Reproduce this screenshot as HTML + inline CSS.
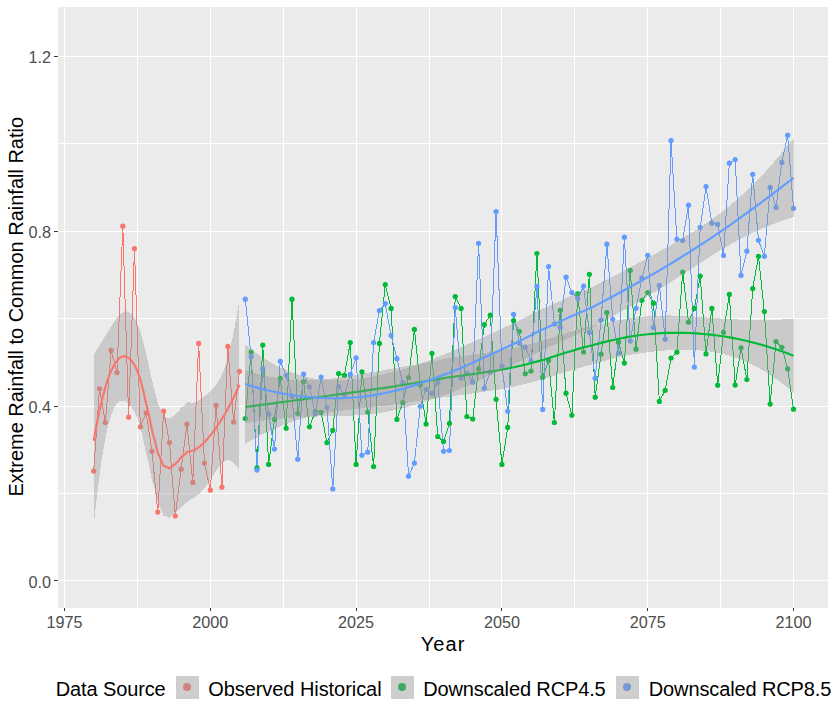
<!DOCTYPE html>
<html><head><meta charset="utf-8"><style>
html,body{margin:0;padding:0;background:#fff;}
svg{display:block;}
.ce{shape-rendering:crispEdges;}
text{font-family:"Liberation Sans",sans-serif;}
.tk{font-size:16.2px;fill:#4D4D4D;}
.ti{font-size:20px;fill:#000;}
.lg{font-size:20px;fill:#000;}
</style></head><body>
<svg width="838" height="706" viewBox="0 0 838 706">
<rect width="838" height="706" fill="#fff"/>
<rect x="58" y="7" width="770" height="601" fill="#EBEBEB"/>
<rect x="58" y="580" width="770" height="1" fill="#fff"/>
<rect x="58" y="493" width="770" height="1" fill="#fff"/>
<rect x="58" y="406" width="770" height="1" fill="#fff"/>
<rect x="58" y="318" width="770" height="1" fill="#fff"/>
<rect x="58" y="231" width="770" height="1" fill="#fff"/>
<rect x="58" y="143" width="770" height="1" fill="#fff"/>
<rect x="58" y="56" width="770" height="1" fill="#fff"/>
<rect x="64" y="7" width="1" height="601" fill="#fff"/>
<rect x="137" y="7" width="1" height="601" fill="#fff"/>
<rect x="210" y="7" width="1" height="601" fill="#fff"/>
<rect x="283" y="7" width="1" height="601" fill="#fff"/>
<rect x="356" y="7" width="1" height="601" fill="#fff"/>
<rect x="429" y="7" width="1" height="601" fill="#fff"/>
<rect x="501" y="7" width="1" height="601" fill="#fff"/>
<rect x="574" y="7" width="1" height="601" fill="#fff"/>
<rect x="647" y="7" width="1" height="601" fill="#fff"/>
<rect x="720" y="7" width="1" height="601" fill="#fff"/>
<rect x="793" y="7" width="1" height="601" fill="#fff"/>
<polyline points="93.66,471 99.49,388.8 105.32,422.5 111.16,350.4 116.99,372.6 122.82,226.2 128.65,417.2 134.48,248.5 140.32,426.8 146.15,412.9 151.98,451.3 157.81,512.1 163.64,411.1 169.48,442.6 175.31,516 181.14,469.2 186.97,424.2 192.8,482.4 198.64,343.4 204.47,463.1 210.3,490.2 216.13,405.4 221.96,487.2 227.8,346.4 233.63,422 239.46,371.3" fill="none" stroke="#F8766D" stroke-width="1" stroke-linejoin="round" class="ce"/>
<polyline points="245.29,418.5 251.12,352.1 256.96,467.9 262.79,345.1 268.62,464.4 274.45,419.4 280.28,378.3 286.12,428.2 291.95,299.2 297.78,413.3 303.61,381.8 309.44,426.8 315.28,411.5 321.11,412.4 326.94,442.6 332.77,430.3 338.6,373.5 344.44,375.3 350.27,342.5 356.1,464.4 361.93,371.8 367.76,412 373.6,466.6 379.43,343.4 385.26,284.5 391.09,308.4 396.92,419.4 402.76,402.4 408.59,377.5 414.42,329.4 420.25,385 426.08,424.1 431.92,353.3 437.75,436.5 443.58,441.5 449.41,423.3 455.24,296.6 461.08,308.4 466.91,416.5 472.74,419 478.57,368.9 484.4,324.5 490.24,315.2 496.07,399.3 501.9,464.4 507.73,427.4 513.56,320.6 519.4,331.3 525.23,373.8 531.06,371 536.89,253.5 542.72,377.2 548.56,360.5 554.39,422.5 560.22,310.3 566.05,393.2 571.88,415.3 577.72,293.9 583.55,352 589.38,274.3 595.21,397.2 601.04,354.2 606.88,312.5 612.71,387.5 618.54,342.2 624.37,363.1 630.2,270.4 636.04,349.2 641.87,300.3 647.7,292.5 653.53,303.2 659.36,401.4 665.2,390.3 671.03,358 676.86,352.2 682.69,272.1 688.52,322.2 694.36,308.4 700.19,276.1 706.02,353.9 711.85,308.4 717.68,385.2 723.52,332.3 729.35,294.4 735.18,385.1 741.01,347.8 746.84,379.5 752.68,288.6 758.51,256.3 764.34,311.6 770.17,404.1 776,341.5 781.84,347.3 787.67,368.8 793.5,409.2" fill="none" stroke="#00BA38" stroke-width="1" stroke-linejoin="round" class="ce"/>
<polyline points="245.29,299.2 251.12,356.5 256.96,470.1 262.79,368.7 268.62,414.2 274.45,449.1 280.28,361.3 286.12,375.3 291.95,396.2 297.78,459.2 303.61,374 309.44,387.1 315.28,413.7 321.11,377 326.94,407.6 332.77,488.9 338.6,386.6 344.44,394.9 350.27,374.4 356.1,357.8 361.93,455.3 367.76,452.2 373.6,342.5 379.43,310.6 385.26,303.6 391.09,335.5 396.92,358.7 402.76,382.7 408.59,476.2 414.42,463.1 420.25,406.3 426.08,389.3 431.92,393.3 437.75,382.2 443.58,451.3 449.41,450.5 455.24,307.5 461.08,378.2 466.91,373 472.74,382.2 478.57,243.3 484.4,388.2 490.24,372 496.07,211.5 501.9,366.2 507.73,411.3 513.56,314.3 519.4,343.2 525.23,347.2 531.06,361.1 536.89,286.4 542.72,409.4 548.56,266.5 554.39,324 560.22,327.3 566.05,277.2 571.88,292.5 577.72,298.4 583.55,286.2 589.38,332.4 595.21,378.3 601.04,320.2 606.88,244.2 612.71,319.3 618.54,353 624.37,237.2 630.2,341.1 636.04,308.3 641.87,278.2 647.7,255.3 653.53,327.5 659.36,285.3 665.2,339.2 671.03,140.6 676.86,239.2 682.69,240.5 688.52,205.2 694.36,367.1 700.19,227.3 706.02,186.5 711.85,223.2 717.68,224.4 723.52,255.4 729.35,163.2 735.18,159.5 741.01,275.4 746.84,251.2 752.68,174.3 758.51,240.3 764.34,256.3 770.17,187.4 776,207.4 781.84,162.4 787.67,135.2 793.5,208.3" fill="none" stroke="#619CFF" stroke-width="1" stroke-linejoin="round" class="ce"/>
<circle cx="93.66" cy="471" r="2.6" fill="#F8766D"/>
<circle cx="99.49" cy="388.8" r="2.6" fill="#F8766D"/>
<circle cx="105.32" cy="422.5" r="2.6" fill="#F8766D"/>
<circle cx="111.16" cy="350.4" r="2.6" fill="#F8766D"/>
<circle cx="116.99" cy="372.6" r="2.6" fill="#F8766D"/>
<circle cx="122.82" cy="226.2" r="2.6" fill="#F8766D"/>
<circle cx="128.65" cy="417.2" r="2.6" fill="#F8766D"/>
<circle cx="134.48" cy="248.5" r="2.6" fill="#F8766D"/>
<circle cx="140.32" cy="426.8" r="2.6" fill="#F8766D"/>
<circle cx="146.15" cy="412.9" r="2.6" fill="#F8766D"/>
<circle cx="151.98" cy="451.3" r="2.6" fill="#F8766D"/>
<circle cx="157.81" cy="512.1" r="2.6" fill="#F8766D"/>
<circle cx="163.64" cy="411.1" r="2.6" fill="#F8766D"/>
<circle cx="169.48" cy="442.6" r="2.6" fill="#F8766D"/>
<circle cx="175.31" cy="516" r="2.6" fill="#F8766D"/>
<circle cx="181.14" cy="469.2" r="2.6" fill="#F8766D"/>
<circle cx="186.97" cy="424.2" r="2.6" fill="#F8766D"/>
<circle cx="192.8" cy="482.4" r="2.6" fill="#F8766D"/>
<circle cx="198.64" cy="343.4" r="2.6" fill="#F8766D"/>
<circle cx="204.47" cy="463.1" r="2.6" fill="#F8766D"/>
<circle cx="210.3" cy="490.2" r="2.6" fill="#F8766D"/>
<circle cx="216.13" cy="405.4" r="2.6" fill="#F8766D"/>
<circle cx="221.96" cy="487.2" r="2.6" fill="#F8766D"/>
<circle cx="227.8" cy="346.4" r="2.6" fill="#F8766D"/>
<circle cx="233.63" cy="422" r="2.6" fill="#F8766D"/>
<circle cx="239.46" cy="371.3" r="2.6" fill="#F8766D"/>
<circle cx="245.29" cy="418.5" r="2.6" fill="#00BA38"/>
<circle cx="251.12" cy="352.1" r="2.6" fill="#00BA38"/>
<circle cx="256.96" cy="467.9" r="2.6" fill="#00BA38"/>
<circle cx="262.79" cy="345.1" r="2.6" fill="#00BA38"/>
<circle cx="268.62" cy="464.4" r="2.6" fill="#00BA38"/>
<circle cx="274.45" cy="419.4" r="2.6" fill="#00BA38"/>
<circle cx="280.28" cy="378.3" r="2.6" fill="#00BA38"/>
<circle cx="286.12" cy="428.2" r="2.6" fill="#00BA38"/>
<circle cx="291.95" cy="299.2" r="2.6" fill="#00BA38"/>
<circle cx="297.78" cy="413.3" r="2.6" fill="#00BA38"/>
<circle cx="303.61" cy="381.8" r="2.6" fill="#00BA38"/>
<circle cx="309.44" cy="426.8" r="2.6" fill="#00BA38"/>
<circle cx="315.28" cy="411.5" r="2.6" fill="#00BA38"/>
<circle cx="321.11" cy="412.4" r="2.6" fill="#00BA38"/>
<circle cx="326.94" cy="442.6" r="2.6" fill="#00BA38"/>
<circle cx="332.77" cy="430.3" r="2.6" fill="#00BA38"/>
<circle cx="338.6" cy="373.5" r="2.6" fill="#00BA38"/>
<circle cx="344.44" cy="375.3" r="2.6" fill="#00BA38"/>
<circle cx="350.27" cy="342.5" r="2.6" fill="#00BA38"/>
<circle cx="356.1" cy="464.4" r="2.6" fill="#00BA38"/>
<circle cx="361.93" cy="371.8" r="2.6" fill="#00BA38"/>
<circle cx="367.76" cy="412" r="2.6" fill="#00BA38"/>
<circle cx="373.6" cy="466.6" r="2.6" fill="#00BA38"/>
<circle cx="379.43" cy="343.4" r="2.6" fill="#00BA38"/>
<circle cx="385.26" cy="284.5" r="2.6" fill="#00BA38"/>
<circle cx="391.09" cy="308.4" r="2.6" fill="#00BA38"/>
<circle cx="396.92" cy="419.4" r="2.6" fill="#00BA38"/>
<circle cx="402.76" cy="402.4" r="2.6" fill="#00BA38"/>
<circle cx="408.59" cy="377.5" r="2.6" fill="#00BA38"/>
<circle cx="414.42" cy="329.4" r="2.6" fill="#00BA38"/>
<circle cx="420.25" cy="385" r="2.6" fill="#00BA38"/>
<circle cx="426.08" cy="424.1" r="2.6" fill="#00BA38"/>
<circle cx="431.92" cy="353.3" r="2.6" fill="#00BA38"/>
<circle cx="437.75" cy="436.5" r="2.6" fill="#00BA38"/>
<circle cx="443.58" cy="441.5" r="2.6" fill="#00BA38"/>
<circle cx="449.41" cy="423.3" r="2.6" fill="#00BA38"/>
<circle cx="455.24" cy="296.6" r="2.6" fill="#00BA38"/>
<circle cx="461.08" cy="308.4" r="2.6" fill="#00BA38"/>
<circle cx="466.91" cy="416.5" r="2.6" fill="#00BA38"/>
<circle cx="472.74" cy="419" r="2.6" fill="#00BA38"/>
<circle cx="478.57" cy="368.9" r="2.6" fill="#00BA38"/>
<circle cx="484.4" cy="324.5" r="2.6" fill="#00BA38"/>
<circle cx="490.24" cy="315.2" r="2.6" fill="#00BA38"/>
<circle cx="496.07" cy="399.3" r="2.6" fill="#00BA38"/>
<circle cx="501.9" cy="464.4" r="2.6" fill="#00BA38"/>
<circle cx="507.73" cy="427.4" r="2.6" fill="#00BA38"/>
<circle cx="513.56" cy="320.6" r="2.6" fill="#00BA38"/>
<circle cx="519.4" cy="331.3" r="2.6" fill="#00BA38"/>
<circle cx="525.23" cy="373.8" r="2.6" fill="#00BA38"/>
<circle cx="531.06" cy="371" r="2.6" fill="#00BA38"/>
<circle cx="536.89" cy="253.5" r="2.6" fill="#00BA38"/>
<circle cx="542.72" cy="377.2" r="2.6" fill="#00BA38"/>
<circle cx="548.56" cy="360.5" r="2.6" fill="#00BA38"/>
<circle cx="554.39" cy="422.5" r="2.6" fill="#00BA38"/>
<circle cx="560.22" cy="310.3" r="2.6" fill="#00BA38"/>
<circle cx="566.05" cy="393.2" r="2.6" fill="#00BA38"/>
<circle cx="571.88" cy="415.3" r="2.6" fill="#00BA38"/>
<circle cx="577.72" cy="293.9" r="2.6" fill="#00BA38"/>
<circle cx="583.55" cy="352" r="2.6" fill="#00BA38"/>
<circle cx="589.38" cy="274.3" r="2.6" fill="#00BA38"/>
<circle cx="595.21" cy="397.2" r="2.6" fill="#00BA38"/>
<circle cx="601.04" cy="354.2" r="2.6" fill="#00BA38"/>
<circle cx="606.88" cy="312.5" r="2.6" fill="#00BA38"/>
<circle cx="612.71" cy="387.5" r="2.6" fill="#00BA38"/>
<circle cx="618.54" cy="342.2" r="2.6" fill="#00BA38"/>
<circle cx="624.37" cy="363.1" r="2.6" fill="#00BA38"/>
<circle cx="630.2" cy="270.4" r="2.6" fill="#00BA38"/>
<circle cx="636.04" cy="349.2" r="2.6" fill="#00BA38"/>
<circle cx="641.87" cy="300.3" r="2.6" fill="#00BA38"/>
<circle cx="647.7" cy="292.5" r="2.6" fill="#00BA38"/>
<circle cx="653.53" cy="303.2" r="2.6" fill="#00BA38"/>
<circle cx="659.36" cy="401.4" r="2.6" fill="#00BA38"/>
<circle cx="665.2" cy="390.3" r="2.6" fill="#00BA38"/>
<circle cx="671.03" cy="358" r="2.6" fill="#00BA38"/>
<circle cx="676.86" cy="352.2" r="2.6" fill="#00BA38"/>
<circle cx="682.69" cy="272.1" r="2.6" fill="#00BA38"/>
<circle cx="688.52" cy="322.2" r="2.6" fill="#00BA38"/>
<circle cx="694.36" cy="308.4" r="2.6" fill="#00BA38"/>
<circle cx="700.19" cy="276.1" r="2.6" fill="#00BA38"/>
<circle cx="706.02" cy="353.9" r="2.6" fill="#00BA38"/>
<circle cx="711.85" cy="308.4" r="2.6" fill="#00BA38"/>
<circle cx="717.68" cy="385.2" r="2.6" fill="#00BA38"/>
<circle cx="723.52" cy="332.3" r="2.6" fill="#00BA38"/>
<circle cx="729.35" cy="294.4" r="2.6" fill="#00BA38"/>
<circle cx="735.18" cy="385.1" r="2.6" fill="#00BA38"/>
<circle cx="741.01" cy="347.8" r="2.6" fill="#00BA38"/>
<circle cx="746.84" cy="379.5" r="2.6" fill="#00BA38"/>
<circle cx="752.68" cy="288.6" r="2.6" fill="#00BA38"/>
<circle cx="758.51" cy="256.3" r="2.6" fill="#00BA38"/>
<circle cx="764.34" cy="311.6" r="2.6" fill="#00BA38"/>
<circle cx="770.17" cy="404.1" r="2.6" fill="#00BA38"/>
<circle cx="776" cy="341.5" r="2.6" fill="#00BA38"/>
<circle cx="781.84" cy="347.3" r="2.6" fill="#00BA38"/>
<circle cx="787.67" cy="368.8" r="2.6" fill="#00BA38"/>
<circle cx="793.5" cy="409.2" r="2.6" fill="#00BA38"/>
<circle cx="245.29" cy="299.2" r="2.6" fill="#619CFF"/>
<circle cx="251.12" cy="356.5" r="2.6" fill="#619CFF"/>
<circle cx="256.96" cy="470.1" r="2.6" fill="#619CFF"/>
<circle cx="262.79" cy="368.7" r="2.6" fill="#619CFF"/>
<circle cx="268.62" cy="414.2" r="2.6" fill="#619CFF"/>
<circle cx="274.45" cy="449.1" r="2.6" fill="#619CFF"/>
<circle cx="280.28" cy="361.3" r="2.6" fill="#619CFF"/>
<circle cx="286.12" cy="375.3" r="2.6" fill="#619CFF"/>
<circle cx="291.95" cy="396.2" r="2.6" fill="#619CFF"/>
<circle cx="297.78" cy="459.2" r="2.6" fill="#619CFF"/>
<circle cx="303.61" cy="374" r="2.6" fill="#619CFF"/>
<circle cx="309.44" cy="387.1" r="2.6" fill="#619CFF"/>
<circle cx="315.28" cy="413.7" r="2.6" fill="#619CFF"/>
<circle cx="321.11" cy="377" r="2.6" fill="#619CFF"/>
<circle cx="326.94" cy="407.6" r="2.6" fill="#619CFF"/>
<circle cx="332.77" cy="488.9" r="2.6" fill="#619CFF"/>
<circle cx="338.6" cy="386.6" r="2.6" fill="#619CFF"/>
<circle cx="344.44" cy="394.9" r="2.6" fill="#619CFF"/>
<circle cx="350.27" cy="374.4" r="2.6" fill="#619CFF"/>
<circle cx="356.1" cy="357.8" r="2.6" fill="#619CFF"/>
<circle cx="361.93" cy="455.3" r="2.6" fill="#619CFF"/>
<circle cx="367.76" cy="452.2" r="2.6" fill="#619CFF"/>
<circle cx="373.6" cy="342.5" r="2.6" fill="#619CFF"/>
<circle cx="379.43" cy="310.6" r="2.6" fill="#619CFF"/>
<circle cx="385.26" cy="303.6" r="2.6" fill="#619CFF"/>
<circle cx="391.09" cy="335.5" r="2.6" fill="#619CFF"/>
<circle cx="396.92" cy="358.7" r="2.6" fill="#619CFF"/>
<circle cx="402.76" cy="382.7" r="2.6" fill="#619CFF"/>
<circle cx="408.59" cy="476.2" r="2.6" fill="#619CFF"/>
<circle cx="414.42" cy="463.1" r="2.6" fill="#619CFF"/>
<circle cx="420.25" cy="406.3" r="2.6" fill="#619CFF"/>
<circle cx="426.08" cy="389.3" r="2.6" fill="#619CFF"/>
<circle cx="431.92" cy="393.3" r="2.6" fill="#619CFF"/>
<circle cx="437.75" cy="382.2" r="2.6" fill="#619CFF"/>
<circle cx="443.58" cy="451.3" r="2.6" fill="#619CFF"/>
<circle cx="449.41" cy="450.5" r="2.6" fill="#619CFF"/>
<circle cx="455.24" cy="307.5" r="2.6" fill="#619CFF"/>
<circle cx="461.08" cy="378.2" r="2.6" fill="#619CFF"/>
<circle cx="466.91" cy="373" r="2.6" fill="#619CFF"/>
<circle cx="472.74" cy="382.2" r="2.6" fill="#619CFF"/>
<circle cx="478.57" cy="243.3" r="2.6" fill="#619CFF"/>
<circle cx="484.4" cy="388.2" r="2.6" fill="#619CFF"/>
<circle cx="490.24" cy="372" r="2.6" fill="#619CFF"/>
<circle cx="496.07" cy="211.5" r="2.6" fill="#619CFF"/>
<circle cx="501.9" cy="366.2" r="2.6" fill="#619CFF"/>
<circle cx="507.73" cy="411.3" r="2.6" fill="#619CFF"/>
<circle cx="513.56" cy="314.3" r="2.6" fill="#619CFF"/>
<circle cx="519.4" cy="343.2" r="2.6" fill="#619CFF"/>
<circle cx="525.23" cy="347.2" r="2.6" fill="#619CFF"/>
<circle cx="531.06" cy="361.1" r="2.6" fill="#619CFF"/>
<circle cx="536.89" cy="286.4" r="2.6" fill="#619CFF"/>
<circle cx="542.72" cy="409.4" r="2.6" fill="#619CFF"/>
<circle cx="548.56" cy="266.5" r="2.6" fill="#619CFF"/>
<circle cx="554.39" cy="324" r="2.6" fill="#619CFF"/>
<circle cx="560.22" cy="327.3" r="2.6" fill="#619CFF"/>
<circle cx="566.05" cy="277.2" r="2.6" fill="#619CFF"/>
<circle cx="571.88" cy="292.5" r="2.6" fill="#619CFF"/>
<circle cx="577.72" cy="298.4" r="2.6" fill="#619CFF"/>
<circle cx="583.55" cy="286.2" r="2.6" fill="#619CFF"/>
<circle cx="589.38" cy="332.4" r="2.6" fill="#619CFF"/>
<circle cx="595.21" cy="378.3" r="2.6" fill="#619CFF"/>
<circle cx="601.04" cy="320.2" r="2.6" fill="#619CFF"/>
<circle cx="606.88" cy="244.2" r="2.6" fill="#619CFF"/>
<circle cx="612.71" cy="319.3" r="2.6" fill="#619CFF"/>
<circle cx="618.54" cy="353" r="2.6" fill="#619CFF"/>
<circle cx="624.37" cy="237.2" r="2.6" fill="#619CFF"/>
<circle cx="630.2" cy="341.1" r="2.6" fill="#619CFF"/>
<circle cx="636.04" cy="308.3" r="2.6" fill="#619CFF"/>
<circle cx="641.87" cy="278.2" r="2.6" fill="#619CFF"/>
<circle cx="647.7" cy="255.3" r="2.6" fill="#619CFF"/>
<circle cx="653.53" cy="327.5" r="2.6" fill="#619CFF"/>
<circle cx="659.36" cy="285.3" r="2.6" fill="#619CFF"/>
<circle cx="665.2" cy="339.2" r="2.6" fill="#619CFF"/>
<circle cx="671.03" cy="140.6" r="2.6" fill="#619CFF"/>
<circle cx="676.86" cy="239.2" r="2.6" fill="#619CFF"/>
<circle cx="682.69" cy="240.5" r="2.6" fill="#619CFF"/>
<circle cx="688.52" cy="205.2" r="2.6" fill="#619CFF"/>
<circle cx="694.36" cy="367.1" r="2.6" fill="#619CFF"/>
<circle cx="700.19" cy="227.3" r="2.6" fill="#619CFF"/>
<circle cx="706.02" cy="186.5" r="2.6" fill="#619CFF"/>
<circle cx="711.85" cy="223.2" r="2.6" fill="#619CFF"/>
<circle cx="717.68" cy="224.4" r="2.6" fill="#619CFF"/>
<circle cx="723.52" cy="255.4" r="2.6" fill="#619CFF"/>
<circle cx="729.35" cy="163.2" r="2.6" fill="#619CFF"/>
<circle cx="735.18" cy="159.5" r="2.6" fill="#619CFF"/>
<circle cx="741.01" cy="275.4" r="2.6" fill="#619CFF"/>
<circle cx="746.84" cy="251.2" r="2.6" fill="#619CFF"/>
<circle cx="752.68" cy="174.3" r="2.6" fill="#619CFF"/>
<circle cx="758.51" cy="240.3" r="2.6" fill="#619CFF"/>
<circle cx="764.34" cy="256.3" r="2.6" fill="#619CFF"/>
<circle cx="770.17" cy="187.4" r="2.6" fill="#619CFF"/>
<circle cx="776" cy="207.4" r="2.6" fill="#619CFF"/>
<circle cx="781.84" cy="162.4" r="2.6" fill="#619CFF"/>
<circle cx="787.67" cy="135.2" r="2.6" fill="#619CFF"/>
<circle cx="793.5" cy="208.3" r="2.6" fill="#619CFF"/>
<polygon points="93.66,355.14 95.51,351.98 97.35,348.91 99.2,345.9 101.04,342.93 102.89,339.96 104.73,336.97 106.58,333.96 108.42,330.92 110.27,327.88 112.12,324.89 113.96,322.02 115.81,319.34 117.65,316.93 119.5,314.87 121.34,313.25 123.19,312.1 125.03,311.49 126.88,311.46 128.73,312.04 130.57,313.27 132.42,315.17 134.26,317.78 136.11,321.1 137.95,325.2 139.8,330.15 141.64,336.02 143.49,342.85 145.34,350.49 147.18,358.64 149.03,366.92 150.87,375.27 152.72,383.41 154.56,390.58 156.41,397.87 158.25,404.21 160.1,408.48 161.95,412.71 163.79,416.17 165.64,417.21 167.48,418.13 169.33,418.26 171.17,417.63 173.02,416.54 174.87,414.53 176.71,412.92 178.56,411.76 180.4,408.09 182.25,406.43 184.09,406.61 185.94,403.19 187.78,401.88 189.63,402.51 191.48,402.86 193.32,402.74 195.17,402.19 197.01,401.32 198.86,400.23 200.7,398.99 202.55,397.66 204.39,396.25 206.24,394.79 208.09,393.25 209.93,391.62 211.78,389.86 213.62,387.91 215.47,385.69 217.31,383.12 219.16,380.12 221,376.57 222.85,372.39 224.7,367.5 226.54,361.83 228.39,355.34 230.23,348.02 232.08,339.85 233.92,330.87 235.77,321.07 237.61,310.48 239.46,299.12 239.46,470.37 237.61,467.41 235.77,464.91 233.92,462.92 232.08,461.45 230.23,460.53 228.39,460.17 226.54,460.38 224.7,461.15 222.85,462.45 221,464.22 219.16,466.39 217.31,468.88 215.47,471.58 213.62,474.42 211.78,477.3 209.93,480.16 208.09,482.94 206.24,485.59 204.39,488.06 202.55,490.33 200.7,492.38 198.86,494.18 197.01,495.74 195.17,497.08 193.32,498.24 191.48,499.31 189.63,500.38 187.78,501.46 185.94,502.56 184.09,504.29 182.25,505.74 180.4,507.73 178.56,509.7 176.71,511.95 174.87,514.45 173.02,514.74 171.17,516.38 169.33,518.44 167.48,516.61 165.64,515.69 163.79,516.35 161.95,511.46 160.1,506.69 158.25,504.12 156.41,496.9 154.56,488.51 152.72,483.05 150.87,474.58 149.03,464.6 147.18,458.01 145.34,450.07 143.49,440.73 141.64,432.47 139.8,425.65 137.95,420.09 136.11,415.52 134.26,411.72 132.42,408.56 130.57,405.94 128.73,403.85 126.88,402.26 125.03,401.18 123.19,400.64 121.34,400.69 119.5,401.39 117.65,402.82 115.81,405.09 113.96,408.29 112.12,412.54 110.27,417.94 108.42,424.57 106.58,432.51 104.73,441.8 102.89,452.47 101.04,464.52 99.2,477.96 97.35,492.76 95.51,508.91 93.66,526.4" fill="#999999" fill-opacity="0.4" class="ce"/>
<polyline points="93.66,440.77 95.51,430.44 97.35,420.83 99.2,411.93 101.04,403.73 102.89,396.21 104.73,389.39 106.58,383.23 108.42,377.74 110.27,372.91 112.12,368.72 113.96,365.16 115.81,362.21 117.65,359.87 119.5,358.13 121.34,356.97 123.19,356.37 125.03,356.34 126.88,356.86 128.73,357.94 130.57,359.61 132.42,361.87 134.26,364.75 136.11,368.31 137.95,372.65 139.8,377.9 141.64,384.24 143.49,391.79 145.34,400.28 147.18,408.33 149.03,415.76 150.87,424.93 152.72,433.23 154.56,439.54 156.41,447.38 158.25,454.17 160.1,457.59 161.95,462.08 163.79,466.26 165.64,466.45 167.48,467.37 169.33,468.35 171.17,467 173.02,465.64 174.87,464.49 176.71,462.44 178.56,460.73 180.4,457.91 182.25,456.08 184.09,455.45 185.94,452.87 187.78,451.67 189.63,451.44 191.48,451.09 193.32,450.49 195.17,449.63 197.01,448.53 198.86,447.21 200.7,445.69 202.55,444 204.39,442.16 206.24,440.19 208.09,438.1 209.93,435.89 211.78,433.58 213.62,431.16 215.47,428.64 217.31,426 219.16,423.25 221,420.39 222.85,417.42 224.7,414.32 226.54,411.11 228.39,407.76 230.23,404.27 232.08,400.65 233.92,396.89 235.77,392.99 237.61,388.94 239.46,384.75" fill="none" stroke="#F8766D" stroke-width="2.13" stroke-linejoin="round"/>
<polygon points="245.29,370.26 252.23,372.36 259.17,374.23 266.11,375.85 273.05,377.23 279.99,378.35 286.93,379.21 293.87,379.8 300.81,380.12 307.75,380.17 314.69,379.96 321.62,379.53 328.56,378.88 335.5,378.07 342.44,377.11 349.38,376.05 356.32,374.91 363.26,373.72 370.2,372.51 377.14,371.29 384.08,370.06 391.02,368.84 397.96,367.62 404.9,366.4 411.84,365.18 418.78,363.93 425.71,362.66 432.65,361.32 439.59,359.92 446.53,358.48 453.47,357.41 460.41,356.39 467.35,355.47 474.29,354.57 481.23,353.58 488.17,352.52 495.11,351.41 502.05,350.21 508.99,348.88 515.93,347.46 522.87,345.9 529.81,344.16 536.74,342.26 543.68,340.32 550.62,338.27 557.56,336.1 564.5,333.8 571.44,331.55 578.38,329.52 585.32,327.69 592.26,325.96 599.2,324.46 606.14,322.9 613.08,321.38 620.02,319.99 626.96,318.76 633.9,317.71 640.83,316.87 647.77,316.23 654.71,315.79 661.65,315.55 668.59,315.48 675.53,315.59 682.47,315.84 689.41,316.21 696.35,316.67 703.29,317.19 710.23,317.74 717.17,318.27 724.11,318.76 731.05,319.18 737.99,319.52 744.92,319.76 751.86,319.9 758.8,319.95 765.74,319.91 772.68,319.79 779.62,319.6 786.56,319.36 793.5,319.08 793.5,392.56 786.56,386.83 779.62,381.52 772.68,376.62 765.74,372.14 758.8,368.08 751.86,364.46 744.92,361.26 737.99,358.49 731.05,356.16 724.11,354.23 717.17,352.7 710.23,351.54 703.29,350.7 696.35,350.16 689.41,349.88 682.47,349.82 675.53,349.97 668.59,350.29 661.65,350.78 654.71,351.43 647.77,352.22 640.83,353.16 633.9,354.25 626.96,355.49 620.02,356.9 613.08,358.51 606.14,360.33 599.2,362.34 592.26,364.44 585.32,366.27 578.38,368.21 571.44,370.26 564.5,372.4 557.56,374.6 550.62,376.83 543.68,378.98 536.74,381 529.81,382.79 522.87,384.43 515.93,385.99 508.99,387.52 502.05,388.95 495.11,390.07 488.17,391.07 481.23,392.09 474.29,393.18 467.35,394.18 460.41,395.08 453.47,395.99 446.53,396.96 439.59,397.8 432.65,398.75 425.71,399.79 418.78,400.85 411.84,401.91 404.9,402.93 397.96,403.91 391.02,404.83 384.08,405.7 377.14,406.53 370.2,407.32 363.26,408.1 356.32,408.89 349.38,409.71 342.44,410.59 335.5,411.57 328.56,412.68 321.62,413.96 314.69,415.44 307.75,417.14 300.81,419.09 293.87,421.3 286.93,423.76 279.99,426.49 273.05,429.46 266.11,432.69 259.17,436.14 252.23,439.83 245.29,443.74" fill="#999999" fill-opacity="0.4" class="ce"/>
<polyline points="245.29,407 252.23,406.09 259.17,405.18 266.11,404.27 273.05,403.35 279.99,402.42 286.93,401.49 293.87,400.55 300.81,399.6 307.75,398.65 314.69,397.7 321.62,396.74 328.56,395.78 335.5,394.82 342.44,393.85 349.38,392.88 356.32,391.9 363.26,390.91 370.2,389.92 377.14,388.91 384.08,387.88 391.02,386.83 397.96,385.76 404.9,384.66 411.84,383.54 418.78,382.39 425.71,381.22 432.65,380.04 439.59,378.86 446.53,377.72 453.47,376.7 460.41,375.74 467.35,374.82 474.29,373.87 481.23,372.83 488.17,371.79 495.11,370.74 502.05,369.58 508.99,368.2 515.93,366.73 522.87,365.17 529.81,363.48 536.74,361.63 543.68,359.65 550.62,357.55 557.56,355.35 564.5,353.1 571.44,350.9 578.38,348.86 585.32,346.98 592.26,345.2 599.2,343.4 606.14,341.62 613.08,339.95 620.02,338.45 626.96,337.12 633.9,335.98 640.83,335.02 647.77,334.23 654.71,333.61 661.65,333.17 668.59,332.89 675.53,332.78 682.47,332.83 689.41,333.04 696.35,333.42 703.29,333.95 710.23,334.64 717.17,335.49 724.11,336.5 731.05,337.67 737.99,339.01 744.92,340.51 751.86,342.18 758.8,344.02 765.74,346.02 772.68,348.2 779.62,350.56 786.56,353.1 793.5,355.82" fill="none" stroke="#00BA38" stroke-width="2.13" stroke-linejoin="round"/>
<polygon points="245.29,344.78 252.23,350.16 259.17,355.11 266.11,359.63 273.05,363.71 279.99,367.34 286.93,370.52 293.87,373.25 300.81,375.52 307.75,377.33 314.69,378.7 321.62,379.65 328.56,380.2 335.5,380.4 342.44,380.26 349.38,379.84 356.32,379.16 363.26,378.25 370.2,377.12 377.14,375.8 384.08,374.3 391.02,372.61 397.96,370.75 404.9,368.72 411.84,366.52 418.78,364.15 425.71,361.62 432.65,358.94 439.59,356.15 446.53,353.34 453.47,350.48 460.41,347.53 467.35,344.47 474.29,341.34 481.23,338.2 488.17,335.03 495.11,331.8 502.05,328.51 508.99,325.34 515.93,322.17 522.87,318.83 529.81,315.25 536.74,311.63 543.68,308.4 550.62,305.28 557.56,302.1 564.5,298.77 571.44,295.61 578.38,292.67 585.32,289.74 592.26,286.77 599.2,283.44 606.14,279.99 613.08,276.42 620.02,272.78 626.96,269.1 633.9,265.39 640.83,261.65 647.77,257.88 654.71,254.08 661.65,250.25 668.59,246.35 675.53,242.39 682.47,238.33 689.41,234.14 696.35,229.8 703.29,225.28 710.23,220.54 717.17,215.53 724.11,210.23 731.05,204.61 737.99,198.65 744.92,192.34 751.86,185.67 758.8,178.66 765.74,171.3 772.68,163.61 779.62,155.6 786.56,147.28 793.5,138.65 793.5,217.05 786.56,219.27 779.62,221.67 772.68,224.25 765.74,227.03 758.8,230.02 751.86,233.21 744.92,236.62 737.99,240.23 731.05,244.06 724.11,248.08 717.17,252.27 710.23,256.6 703.29,261.03 696.35,265.53 689.41,270.06 682.47,274.58 675.53,279.07 668.59,283.49 661.65,287.85 654.71,292.11 647.77,296.28 640.83,300.37 633.9,304.36 626.96,308.29 620.02,312.17 613.08,316.04 606.14,319.92 599.2,323.86 592.26,327.83 585.32,330.91 578.38,333.95 571.44,336.91 564.5,339.96 557.56,343.18 550.62,346.42 543.68,349.65 536.74,352.97 529.81,356.48 522.87,359.94 515.93,363.28 508.99,366.56 502.05,369.84 495.11,373.05 488.17,376.17 481.23,379.28 474.29,382.53 467.35,385.78 460.41,388.81 453.47,391.65 446.53,394.4 439.59,396.56 432.65,398.88 425.71,401.24 418.78,403.54 411.84,405.71 404.9,407.7 397.96,409.47 391.02,411.01 384.08,412.32 377.14,413.4 370.2,414.26 363.26,414.93 356.32,415.42 349.38,415.76 342.44,415.99 335.5,416.15 328.56,416.26 321.62,416.39 314.69,416.55 307.75,416.78 300.81,417.1 293.87,417.53 286.93,418.06 279.99,418.7 273.05,419.44 266.11,420.26 259.17,421.17 252.23,422.15 245.29,423.18" fill="#999999" fill-opacity="0.4" class="ce"/>
<polyline points="245.29,383.98 252.23,386.15 259.17,388.14 266.11,389.94 273.05,391.57 279.99,393.02 286.93,394.29 293.87,395.39 300.81,396.31 307.75,397.06 314.69,397.63 321.62,398.02 328.56,398.23 335.5,398.27 342.44,398.13 349.38,397.8 356.32,397.29 363.26,396.59 370.2,395.69 377.14,394.6 384.08,393.31 391.02,391.81 397.96,390.11 404.9,388.21 411.84,386.11 418.78,383.85 425.71,381.43 432.65,378.91 439.59,376.35 446.53,373.87 453.47,371.07 460.41,368.17 467.35,365.13 474.29,361.93 481.23,358.74 488.17,355.6 495.11,352.42 502.05,349.18 508.99,345.95 515.93,342.73 522.87,339.38 529.81,335.86 536.74,332.3 543.68,329.03 550.62,325.85 557.56,322.64 564.5,319.37 571.44,316.26 578.38,313.31 585.32,310.33 592.26,307.3 599.2,303.65 606.14,299.95 613.08,296.23 620.02,292.48 626.96,288.7 633.9,284.88 640.83,281.01 647.77,277.08 654.71,273.1 661.65,269.05 668.59,264.92 675.53,260.73 682.47,256.45 689.41,252.1 696.35,247.67 703.29,243.16 710.23,238.57 717.17,233.9 724.11,229.16 731.05,224.34 737.99,219.44 744.92,214.48 751.86,209.44 758.8,204.34 765.74,199.17 772.68,193.93 779.62,188.64 786.56,183.27 793.5,177.85" fill="none" stroke="#619CFF" stroke-width="2.13" stroke-linejoin="round"/>
<rect x="54" y="580" width="4" height="1" fill="#333"/>
<rect x="54" y="406" width="4" height="1" fill="#333"/>
<rect x="54" y="231" width="4" height="1" fill="#333"/>
<rect x="54" y="56" width="4" height="1" fill="#333"/>
<rect x="64" y="608" width="1" height="3" fill="#333"/>
<rect x="210" y="608" width="1" height="3" fill="#333"/>
<rect x="356" y="608" width="1" height="3" fill="#333"/>
<rect x="501" y="608" width="1" height="3" fill="#333"/>
<rect x="647" y="608" width="1" height="3" fill="#333"/>
<rect x="793" y="608" width="1" height="3" fill="#333"/>
<text x="51" y="587.8" text-anchor="end" class="tk">0.0</text>
<text x="51" y="412.8" text-anchor="end" class="tk">0.4</text>
<text x="51" y="237.9" text-anchor="end" class="tk">0.8</text>
<text x="51" y="62.9" text-anchor="end" class="tk">1.2</text>
<text x="64.5" y="627.7" text-anchor="middle" class="tk">1975</text>
<text x="210.3" y="627.7" text-anchor="middle" class="tk">2000</text>
<text x="356.1" y="627.7" text-anchor="middle" class="tk">2025</text>
<text x="501.9" y="627.7" text-anchor="middle" class="tk">2050</text>
<text x="647.7" y="627.7" text-anchor="middle" class="tk">2075</text>
<text x="793.5" y="627.7" text-anchor="middle" class="tk">2100</text>
<text x="420.8" y="650.9" class="ti" textLength="43.52" lengthAdjust="spacing">Year</text>
<text transform="translate(23.1,496.6) rotate(-90)" x="0" y="0" class="ti" textLength="379.66" lengthAdjust="spacing">Extreme Rainfall to Common Rainfall Ratio</text>
<text x="55.8" y="695.8" class="lg" textLength="109.87" lengthAdjust="spacing">Data Source</text>
<rect x="176" y="676" width="23" height="23" fill="#F2F2F2"/>
<circle cx="187" cy="687" r="4" fill="#F8766D"/>
<rect x="176" y="676" width="23" height="23" fill="#999999" fill-opacity="0.4"/>
<text x="208.2" y="695.8" class="lg" textLength="173.42" lengthAdjust="spacing">Observed Historical</text>
<rect x="391" y="676" width="23" height="23" fill="#F2F2F2"/>
<circle cx="402" cy="687" r="4" fill="#00BA38"/>
<rect x="391" y="676" width="23" height="23" fill="#999999" fill-opacity="0.4"/>
<text x="423.2" y="695.8" class="lg" textLength="182.53" lengthAdjust="spacing">Downscaled RCP4.5</text>
<rect x="616" y="676" width="23" height="23" fill="#F2F2F2"/>
<circle cx="627" cy="687" r="4" fill="#619CFF"/>
<rect x="616" y="676" width="23" height="23" fill="#999999" fill-opacity="0.4"/>
<text x="648.8" y="695.8" class="lg" textLength="182.53" lengthAdjust="spacing">Downscaled RCP8.5</text>
</svg></body></html>
